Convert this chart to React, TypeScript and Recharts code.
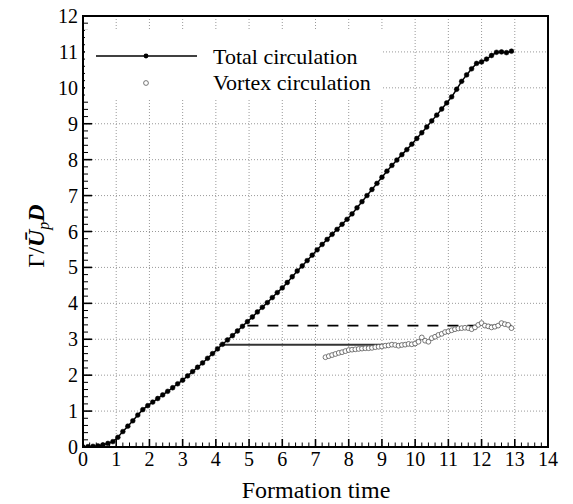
import React from 'react';
import { ComposedChart, Line, XAxis, YAxis, CartesianGrid, ReferenceArea, Customized } from 'recharts';

// Total circulation (formation time, circulation)
const totalT = [
  0.0, 0.15, 0.3, 0.45, 0.6, 0.75, 0.9, 1.05, 1.2, 1.35, 1.5, 1.65, 1.8, 1.95, 2.1, 2.25, 2.4, 2.55, 2.7, 2.85,
  3.0, 3.15, 3.3, 3.45, 3.6, 3.75, 3.9, 4.05, 4.2, 4.35, 4.5, 4.65, 4.8, 4.95, 5.1, 5.25, 5.4, 5.55, 5.7, 5.85,
  6.0, 6.15, 6.3, 6.45, 6.6, 6.75, 6.9, 7.05, 7.2, 7.35, 7.5, 7.65, 7.8, 7.95, 8.1, 8.25, 8.4, 8.55, 8.7, 8.85,
  9.0, 9.15, 9.3, 9.45, 9.6, 9.75, 9.9, 10.05, 10.2, 10.35, 10.5, 10.65, 10.8, 10.95, 11.1, 11.25, 11.4, 11.55,
  11.7, 11.85, 12.0, 12.15, 12.3, 12.45, 12.6, 12.75, 12.9,
];
const totalV = [
  0.0, 0.01, 0.02, 0.03, 0.06, 0.1, 0.15, 0.27, 0.43, 0.58, 0.73, 0.89, 1.04, 1.15, 1.25, 1.35, 1.45, 1.55, 1.65, 1.76,
  1.86, 1.98, 2.1, 2.22, 2.34, 2.47, 2.6, 2.73, 2.86, 2.98, 3.1, 3.23, 3.36, 3.49, 3.62, 3.76, 3.89, 4.02, 4.16, 4.3,
  4.43, 4.58, 4.74, 4.9, 5.04, 5.19, 5.34, 5.49, 5.64, 5.78, 5.92, 6.06, 6.2, 6.34, 6.49, 6.66, 6.83, 7.0, 7.17, 7.34,
  7.51, 7.68, 7.84, 7.99, 8.14, 8.28, 8.43, 8.59, 8.75, 8.91, 9.08, 9.24, 9.41, 9.58, 9.75, 9.96, 10.18, 10.36,
  10.53, 10.68, 10.72, 10.8, 10.9, 10.99, 11.0, 10.98, 11.02,
];

// Vortex circulation
const vortexT = [
  7.3, 7.4, 7.5, 7.6, 7.7, 7.8, 7.9, 8.0, 8.1, 8.2, 8.3, 8.4, 8.5, 8.6, 8.7, 8.8, 8.9, 9.0, 9.1, 9.2,
  9.3, 9.4, 9.5, 9.6, 9.7, 9.8, 9.9, 10.0, 10.1, 10.2, 10.3, 10.4, 10.5, 10.6, 10.7, 10.8, 10.9, 11.0,
  11.1, 11.2, 11.3, 11.4, 11.5, 11.6, 11.7, 11.8, 11.9, 12.0, 12.1, 12.2, 12.3, 12.4, 12.5, 12.6, 12.7, 12.8, 12.9,
];
const vortexV = [
  2.5, 2.53, 2.56, 2.59, 2.62, 2.64, 2.67, 2.7, 2.71, 2.72, 2.73, 2.74, 2.75, 2.75, 2.76, 2.78, 2.79, 2.8, 2.82, 2.83,
  2.85, 2.84, 2.82, 2.84, 2.85, 2.87, 2.86, 2.88, 2.93, 3.05, 2.96, 2.93, 3.03, 3.07, 3.12, 3.15, 3.2, 3.22,
  3.25, 3.28, 3.3, 3.31, 3.32, 3.31, 3.28, 3.33, 3.4, 3.45, 3.38, 3.36, 3.33, 3.35, 3.38, 3.45, 3.42, 3.4, 3.31,
];

// Horizontal guide lines
const plateauT = [4.1, 10.05];
const plateauV = [2.85, 2.85];
const dashedT = [4.95, 12.9];
const dashedV = [3.38, 3.38];

// Axes
const xMajor = [0, 1, 2, 3, 4, 5, 6, 7, 8, 9, 10, 11, 12, 13, 14];
const yMajor = [0, 1, 2, 3, 4, 5, 6, 7, 8, 9, 10, 11, 12];
const xTicks = Array.from({ length: 71 }, (_, i) => i / 5);
const yTicks = Array.from({ length: 61 }, (_, i) => i / 5);

const zip = (ts: number[], vs: number[]) => ts.map((t, i) => ({ t, v: vs[i] }));
const totalData = zip(totalT, totalV);
const vortexData = zip(vortexT, vortexV);
const plateauData = zip(plateauT, plateauV);
const dashedData = zip(dashedT, dashedV);

const txt = { fontFamily: "'Liberation Serif'" };

const isMajor = (v: number) => Math.abs(v - Math.round(v)) < 1e-6;

const XTick = (props: any) => {
  const { x, y, payload } = props;
  const v = payload.value;
  const major = isMajor(v);
  return (
    <g>
      <line x1={x} x2={x} y1={y} y2={y - (major ? 8 : 4.5)} stroke="#000" strokeWidth={major ? 1.6 : 1} />
      {major && (
        <text x={x} y={y + 19} textAnchor="middle" fontSize={20} style={txt} fill="#000">
          {Math.round(v)}
        </text>
      )}
    </g>
  );
};

const YTick = (props: any) => {
  const { x, y, payload } = props;
  const v = payload.value;
  const major = isMajor(v);
  return (
    <g>
      <line x1={x} x2={x + (major ? 9 : 5)} y1={y} y2={y} stroke="#000" strokeWidth={major ? 1.6 : 1} />
      {major && (
        <text x={x - 5} y={y + 7} textAnchor="end" fontSize={20} style={txt} fill="#000">
          {Math.round(v)}
        </text>
      )}
    </g>
  );
};

const Labels = () => (
  <g>
    <text x={316} y={498} textAnchor="middle" fontSize={24} style={txt} fill="#000">Formation time</text>
    <text
      x={44}
      y={236}
      transform="rotate(-90, 44, 236)"
      textAnchor="middle"
      fontSize={24}
      style={txt}
      fill="#000"
    >
      <tspan>Γ/</tspan>
      <tspan fontStyle="italic" fontWeight="bold">{'U\u0304'}</tspan>
      <tspan fontStyle="italic" fontSize={16} dy={5}>p</tspan>
      <tspan fontStyle="italic" fontWeight="bold" dy={-5}>D</tspan>
    </text>
  </g>
);

const LegendBox = () => (
  <svg
    width={298}
    height={68}
    style={{ position: 'absolute', left: 85, top: 30, background: '#fff', overflow: 'visible' }}
  >
    <line x1={11} x2={112} y1={26} y2={26} stroke="#000" strokeWidth={1.5} />
    <circle cx={61} cy={26} r={2.4} fill="#000" />
    <text x={128} y={34} fontSize={22} style={txt} fill="#000">Total circulation</text>
    <circle cx={61} cy={53} r={2.4} fill="#fff" stroke="#555" strokeWidth={0.8} />
    <text x={128} y={60} fontSize={22} style={txt} fill="#000">Vortex circulation</text>
  </svg>
);

export default function App() {
  return (
    <div style={{ position: 'absolute', left: 0, top: 0, width: 573, height: 504, background: '#fff' }}>
      <ComposedChart width={573} height={504} margin={{ top: 16, right: 25, left: 0, bottom: 0 }}>
        <CartesianGrid
          stroke="#999"
          strokeDasharray="1 2"
          horizontalValues={yMajor}
          verticalValues={xMajor}
        />
        <XAxis
          type="number"
          dataKey="t"
          domain={[0, 14]}
          ticks={xTicks}
          interval={0}
          tickSize={0}
          tickMargin={0}
          tick={XTick}
          tickLine={false}
          axisLine={{ stroke: '#000', strokeWidth: 2 }}
          height={57}
          allowDataOverflow
        />
        <YAxis
          type="number"
          domain={[0, 12]}
          ticks={yTicks}
          interval={0}
          tickSize={0}
          tickMargin={0}
          tick={YTick}
          tickLine={false}
          axisLine={{ stroke: '#000', strokeWidth: 2 }}
          width={83}
          allowDataOverflow
        />
        <ReferenceArea x1={0} x2={14} y1={0} y2={12} fill="#fff" fillOpacity={0} stroke="#000" strokeWidth={2} />
        <Customized component={Labels} />
        <Line data={plateauData} dataKey="v" stroke="#333" strokeWidth={2} dot={false} isAnimationActive={false} />
        <Line data={dashedData} dataKey="v" stroke="#000" strokeWidth={1.6} strokeDasharray="11 9" dot={false} isAnimationActive={false} />
        <Line
          data={totalData}
          dataKey="v"
          stroke="#000"
          strokeWidth={1.5}
          dot={{ r: 2.4, fill: '#000', stroke: '#000', strokeWidth: 0.5 }}
          isAnimationActive={false}
        />
        <Line
          data={vortexData}
          dataKey="v"
          stroke="none"
          dot={{ r: 2.4, fill: '#fff', stroke: '#555', strokeWidth: 0.8 }}
          isAnimationActive={false}
        />
      </ComposedChart>
      <LegendBox />
    </div>
  );
}
